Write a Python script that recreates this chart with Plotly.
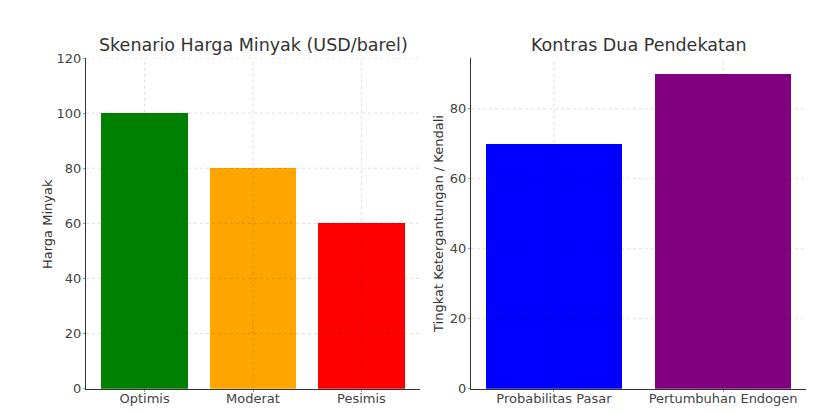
import plotly.graph_objects as go

scenarios = ["Optimis", "Moderat", "Pesimis"]
oil_prices = [100, 80, 60]
scenario_colors = ["green", "orange", "red"]

approaches = ["Probabilitas Pasar", "Pertumbuhan Endogen"]
dependency = [70, 90]
approach_colors = ["blue", "purple"]

left_yticks = [0, 20, 40, 60, 80, 100, 120]
right_yticks = [0, 20, 40, 60, 80]

W, H = 830, 413
L1, R1 = 86, 420
L2, R2 = 471, 806
T, B = 58, 388.7

fig = go.Figure()
fig.add_trace(go.Bar(x=list(range(len(scenarios))), y=oil_prices, marker_color=scenario_colors,
                     marker_line_width=0, width=0.8, xaxis="x", yaxis="y", showlegend=False))
fig.add_trace(go.Bar(x=list(range(len(approaches))), y=dependency, marker_color=approach_colors,
                     marker_line_width=0, width=0.8, xaxis="x2", yaxis="y2", showlegend=False))

font = "DejaVu Sans, sans-serif"
tickfont = dict(family=font, size=13, color="#444")
common_axis = dict(showgrid=False, showline=True, linecolor="#333", linewidth=1, zeroline=False,
                   ticks="outside", ticklen=2, tickcolor="#999", tickfont=tickfont)

# grid lines drawn above the bars, as in the reference
grid = dict(color="rgba(0,0,0,0.13)", width=1, dash="dot")
shapes = []
for i in range(len(scenarios)):
    shapes.append(dict(type="line", xref="x", yref="y domain", x0=i, x1=i, y0=0, y1=1, line=grid, layer="above"))
for v in left_yticks[1:]:
    shapes.append(dict(type="line", xref="x domain", yref="y", x0=0, x1=1, y0=v, y1=v, line=grid, layer="above"))
for i in range(len(approaches)):
    shapes.append(dict(type="line", xref="x2", yref="y2 domain", x0=i, x1=i, y0=0, y1=1, line=grid, layer="above"))
for v in right_yticks[1:]:
    shapes.append(dict(type="line", xref="x2 domain", yref="y2", x0=0, x1=1, y0=v, y1=v, line=grid, layer="above"))

fig.update_layout(
    width=W, height=H, autosize=False, margin=dict(l=0, r=0, t=0, b=0, autoexpand=False),
    paper_bgcolor="white", plot_bgcolor="white", bargap=0, shapes=shapes,
    xaxis=dict(domain=[L1 / W, R1 / W], range=[-0.54, 2.54], tickvals=list(range(3)),
               ticktext=scenarios, anchor="y", ticklabelstandoff=-4, **common_axis),
    yaxis=dict(domain=[1 - B / H, 1 - T / H], range=[0, 120], tickvals=left_yticks, anchor="x",
               ticklabelstandoff=-1, **common_axis),
    xaxis2=dict(domain=[L2 / W, R2 / W], range=[-0.49, 1.49], tickvals=list(range(2)),
                ticktext=approaches, anchor="y2", ticklabelstandoff=-4, **common_axis),
    yaxis2=dict(domain=[1 - B / H, 1 - T / H], range=[0, 94.5], tickvals=right_yticks, anchor="x2",
                ticklabelstandoff=-1, **common_axis),
    annotations=[
        dict(text="Skenario Harga Minyak (USD/barel)", x=(L1 + R1) / 2 / W, y=1 - 45 / H,
             xref="paper", yref="paper", showarrow=False, xanchor="center", yanchor="middle",
             font=dict(family=font, size=17.5, color="#333")),
        dict(text="Kontras Dua Pendekatan", x=(L2 + R2) / 2 / W, y=1 - 45 / H,
             xref="paper", yref="paper", showarrow=False, xanchor="center", yanchor="middle",
             font=dict(family=font, size=17.5, color="#333")),
        dict(text="Harga Minyak", x=47 / W, y=1 - 224 / H, textangle=-90,
             xref="paper", yref="paper", showarrow=False, xanchor="center", yanchor="middle",
             font=dict(family=font, size=13, color="#333")),
        dict(text="Tingkat Ketergantungan / Kendali", x=438 / W, y=1 - 224 / H, textangle=-90,
             xref="paper", yref="paper", showarrow=False, xanchor="center", yanchor="middle",
             font=dict(family=font, size=13, color="#333")),
    ],
)

fig.write_html("out.html", config={"responsive": False, "displayModeBar": False},
               post_script="document.body.style.margin='0';document.documentElement.style.overflow='hidden';")
